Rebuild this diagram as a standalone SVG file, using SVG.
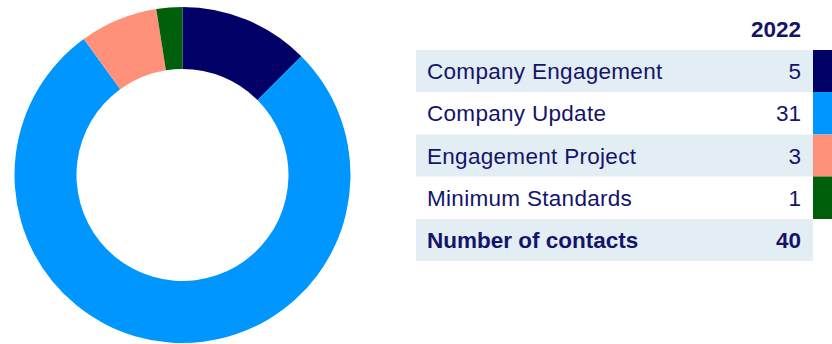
<svg xmlns="http://www.w3.org/2000/svg" width="832" height="344" viewBox="0 0 832 344">
<style>
.t{font-family:"Liberation Sans",Arial,sans-serif;font-size:22.5px;fill:#14146a;letter-spacing:0.3px}
.b{font-weight:bold;letter-spacing:0}
.r{text-anchor:end;letter-spacing:0}
.bg{fill:#e3eef4}
</style>
<rect width="832" height="344" fill="#ffffff"/>
<g id="donut">
<path id="seg-engagement" fill="#000066" d="M182.5,7 A168,168 0 0 1 301.29,56.21 L257.45,100.05 A106,106 0 0 0 182.5,69 Z"/>
<path id="seg-update" fill="#0096ff" d="M301.29,56.21 A168,168 0 1 1 83.75,39.09 L120.19,89.24 A106,106 0 1 0 257.45,100.05 Z"/>
<path id="seg-project" fill="#ff917a" d="M83.75,39.09 A168,168 0 0 1 156.22,9.07 L165.92,70.31 A106,106 0 0 0 120.19,89.24 Z"/>
<path id="seg-minimum" fill="#005f0a" d="M156.22,9.07 A168,168 0 0 1 182.5,7 L182.5,69 A106,106 0 0 0 165.92,70.31 Z"/>
</g>
<g id="table">
<text class="t b r" x="801" y="37">2022</text>
<g id="row1">
<rect class="bg" x="416" y="50" width="397" height="42"/>
<rect x="813" y="50" width="19" height="42" fill="#000066"/>
<text class="t" x="427" y="79">Company Engagement</text>
<text class="t r" x="801" y="79">5</text>
</g>
<g id="row2">
<rect x="813" y="92" width="19" height="42.5" fill="#0096ff"/>
<text class="t" x="427" y="121">Company Update</text>
<text class="t r" x="801" y="121">31</text>
</g>
<g id="row3">
<rect class="bg" x="416" y="134.5" width="397" height="42"/>
<rect x="813" y="134.5" width="19" height="42" fill="#ff917a"/>
<text class="t" x="427" y="163.5">Engagement Project</text>
<text class="t r" x="801" y="163.5">3</text>
</g>
<g id="row4">
<rect x="813" y="176.5" width="19" height="42.5" fill="#005f0a"/>
<text class="t" x="427" y="205.5">Minimum Standards</text>
<text class="t r" x="801" y="205.5">1</text>
</g>
<g id="row5">
<rect class="bg" x="416" y="219" width="397" height="42"/>
<text class="t b" x="427" y="247.5">Number of contacts</text>
<text class="t b r" x="801" y="247.5">40</text>
</g>
</g>
</svg>
